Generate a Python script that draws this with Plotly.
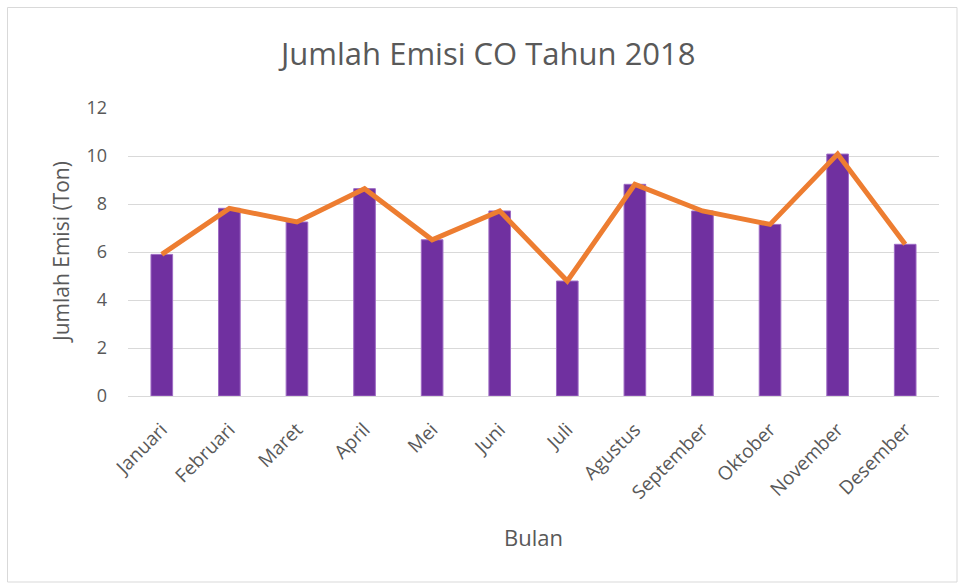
import plotly.graph_objects as go

bulan = ["Januari", "Februari", "Maret", "April", "Mei", "Juni", "Juli",
         "Agustus", "September", "Oktober", "November", "Desember"]
emisi_bar = [5.90, 7.82, 7.25, 8.64, 6.51, 7.71, 4.79, 8.82, 7.71, 7.15, 10.08, 6.32]
emisi_line = [5.90, 7.82, 7.25, 8.64, 6.51, 7.71, 4.79, 8.82, 7.71, 7.15, 10.08, 6.32]
y_ticks = [0, 2, 4, 6, 8, 10, 12]

FONT = "Open Sans"
GREY = "#595959"

fig = go.Figure()
fig.add_trace(go.Bar(x=bulan, y=emisi_bar, marker=dict(color="#7030A0",
                     line=dict(color="#9E6BC4", width=1)), width=0.32,
                     showlegend=False))
fig.add_trace(go.Scatter(x=bulan, y=emisi_line, mode="lines",
                         line=dict(color="#ED7D31", width=5), showlegend=False))

W, H = 958, 583
L, R, T, B = 128, 19, 108, 187
pw, ph = W - L - R, H - T - B

def px(x):
    return (x - L) / pw

def py(y):
    return (H - B - y) / ph

fig.update_layout(
    width=W, height=H,
    margin=dict(l=L, r=R, t=T, b=B),
    paper_bgcolor="white", plot_bgcolor="white",
    font=dict(family=FONT, color=GREY),
    xaxis=dict(tickangle=-45, tickfont=dict(size=19, color=GREY),
               showgrid=False, showline=True, linecolor="#D9D9D9", linewidth=1,
               ticks="", ticklabelstandoff=14),
    yaxis=dict(range=[0, 12], tickvals=y_ticks, tickfont=dict(size=18, color=GREY),
               showgrid=True, gridcolor="#D9D9D9", gridwidth=1,
               zeroline=False, showline=False, ticklabelstandoff=20),
    shapes=[dict(type="rect", xref="paper", yref="paper",
                 x0=px(7.5), x1=px(957), y0=py(582), y1=py(7.5),
                 line=dict(color="#D9D9D9", width=1), fillcolor="rgba(0,0,0,0)",
                 layer="below")],
    annotations=[
        dict(text="Jumlah Emisi CO Tahun 2018", xref="paper", yref="paper",
             x=px(487), y=py(53), xanchor="center", yanchor="middle", showarrow=False,
             font=dict(size=31, color=GREY, family=FONT)),
        dict(text="Jumlah Emisi (Ton)", xref="paper", yref="paper",
             x=px(61), y=py(252), xanchor="center", yanchor="middle",
             showarrow=False, textangle=-90,
             font=dict(size=21, color=GREY, family=FONT)),
        dict(text="Bulan", xref="paper", yref="paper",
             x=px(533), y=py(537), xanchor="center", yanchor="middle",
             showarrow=False,
             font=dict(size=22, color=GREY, family=FONT)),
    ],
)

fig.write_html("out.html", config={"displayModeBar": False},
               post_script="document.body.style.margin='0';document.body.style.padding='0';")
